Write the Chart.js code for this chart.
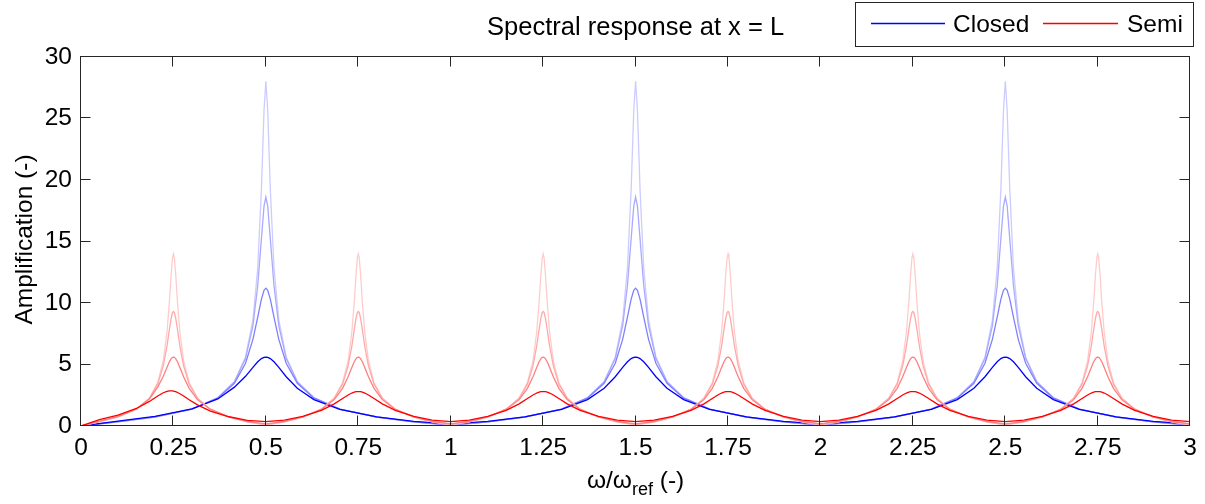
<!DOCTYPE html>
<html>
<head>
<meta charset="utf-8">
<script src="https://cdn.jsdelivr.net/npm/chart.js@4.4.1/dist/chart.umd.min.js"></script>
<style>
html,body{margin:0;padding:0;background:#ffffff;}
canvas{display:block;}
</style>
</head>
<body>
<canvas id="c" width="1205" height="504"></canvas>
<script>
// ---------- text ----------
const chartTitle = 'Spectral response at x = L';
const seriesNames = ['Closed', 'Semi'];
const yAxisTitle = 'Amplification (-)';
const xAxisTitleParts = ['\u03C9/\u03C9', 'ref', ' (-)'];

// ---------- ticks ----------
const xTickValues = [0, 0.25, 0.5, 0.75, 1, 1.25, 1.5, 1.75, 2, 2.25, 2.5, 2.75, 3];
const xTickLabels = ['0', '0.25', '0.5', '0.75', '1', '1.25', '1.5', '1.75', '2', '2.25', '2.5', '2.75', '3'];
const yTickValues = [0, 5, 10, 15, 20, 25, 30];
const yTickLabels = ['0', '5', '10', '15', '20', '25', '30'];

// ---------- closed basin (blue), four damping levels ----------
const closedOmega = [0,
  0.1, 0.2, 0.3, 0.37, 0.415, 0.445, 0.465, 0.478, 0.488, 0.495, 0.5, 0.505, 0.512, 0.522, 0.535, 0.555, 0.585, 0.63, 0.7, 0.8, 0.9, 1,
  1.1, 1.2, 1.3, 1.37, 1.415, 1.445, 1.465, 1.478, 1.488, 1.495, 1.5, 1.505, 1.512, 1.522, 1.535, 1.555, 1.585, 1.63, 1.7, 1.8, 1.9, 2,
  2.1, 2.2, 2.3, 2.37, 2.415, 2.445, 2.465, 2.478, 2.488, 2.495, 2.5, 2.505, 2.512, 2.522, 2.535, 2.555, 2.585, 2.63, 2.7, 2.8, 2.9, 3];

const closedLow = [0,
  0.329, 0.729, 1.375, 2.303, 3.625, 5.61, 8.62, 12.84, 19.26, 25.65, 28.03, 25.65, 19.26, 12.84, 8.62, 5.61, 3.625, 2.303, 1.375, 0.727, 0.327, 0.036,
  0.327, 0.727, 1.375, 2.303, 3.625, 5.61, 8.62, 12.84, 19.26, 25.65, 28.03, 25.65, 19.26, 12.84, 8.62, 5.61, 3.625, 2.303, 1.375, 0.727, 0.327, 0.036,
  0.327, 0.727, 1.375, 2.303, 3.625, 5.61, 8.62, 12.84, 19.26, 25.65, 28.03, 25.65, 19.26, 12.84, 8.62, 5.61, 3.625, 2.303, 1.375, 0.727, 0.327, 0.036];

const closedMidLow = [0,
  0.334, 0.731, 1.378, 2.294, 3.587, 5.476, 8.145, 11.41, 15.23, 17.87, 18.61, 17.87, 15.23, 11.41, 8.145, 5.476, 3.587, 2.294, 1.374, 0.728, 0.329, 0.054,
  0.329, 0.728, 1.374, 2.294, 3.587, 5.476, 8.145, 11.41, 15.23, 17.87, 18.61, 17.87, 15.23, 11.41, 8.145, 5.476, 3.587, 2.294, 1.374, 0.728, 0.329, 0.054,
  0.329, 0.728, 1.374, 2.294, 3.587, 5.476, 8.145, 11.41, 15.23, 17.87, 18.61, 17.87, 15.23, 11.41, 8.145, 5.476, 3.587, 2.294, 1.374, 0.728, 0.329, 0.054];

const closedMidHigh = [0,
  0.349, 0.740, 1.381, 2.265, 3.476, 5.102, 7.045, 8.854, 10.32, 11.04, 11.21, 11.04, 10.32, 8.854, 7.045, 5.102, 3.476, 2.265, 1.369, 0.731, 0.337, 0.089,
  0.337, 0.731, 1.369, 2.265, 3.476, 5.102, 7.045, 8.854, 10.32, 11.04, 11.21, 11.04, 10.32, 8.854, 7.045, 5.102, 3.476, 2.265, 1.369, 0.731, 0.337, 0.089,
  0.337, 0.731, 1.369, 2.265, 3.476, 5.102, 7.045, 8.854, 10.32, 11.04, 11.21, 11.04, 10.32, 8.854, 7.045, 5.102, 3.476, 2.265, 1.369, 0.731, 0.337, 0.089];

const closedHigh = [0,
  0.401, 0.776, 1.393, 2.20, 3.16, 4.04, 4.764, 5.222, 5.479, 5.578, 5.600, 5.578, 5.479, 5.222, 4.764, 4.007, 3.065, 2.142, 1.348, 0.742, 0.370, 0.179,
  0.370, 0.742, 1.348, 2.142, 3.065, 4.007, 4.764, 5.222, 5.479, 5.578, 5.600, 5.578, 5.479, 5.222, 4.764, 4.007, 3.065, 2.142, 1.348, 0.742, 0.370, 0.179,
  0.370, 0.742, 1.348, 2.142, 3.065, 4.007, 4.764, 5.222, 5.479, 5.578, 5.600, 5.578, 5.479, 5.222, 4.764, 4.007, 3.065, 2.142, 1.348, 0.742, 0.370, 0.179];

// ---------- semi-closed basin (red), four damping levels ----------
const semiOmega = [0,
  0.05, 0.1, 0.15, 0.185, 0.2075, 0.2225, 0.2325, 0.239, 0.244, 0.2475, 0.25, 0.2525, 0.256, 0.261, 0.2675, 0.2775, 0.2925, 0.315, 0.35, 0.4, 0.45, 0.5,
  0.55, 0.6, 0.65, 0.685, 0.7075, 0.7225, 0.7325, 0.739, 0.744, 0.7475, 0.75, 0.7525, 0.756, 0.761, 0.7675, 0.7775, 0.7925, 0.815, 0.85, 0.9, 0.95, 1,
  1.05, 1.1, 1.15, 1.185, 1.2075, 1.2225, 1.2325, 1.239, 1.244, 1.2475, 1.25, 1.2525, 1.256, 1.261, 1.2675, 1.2775, 1.2925, 1.315, 1.35, 1.4, 1.45, 1.5,
  1.55, 1.6, 1.65, 1.685, 1.7075, 1.7225, 1.7325, 1.739, 1.744, 1.7475, 1.75, 1.7525, 1.756, 1.761, 1.7675, 1.7775, 1.7925, 1.815, 1.85, 1.9, 1.95, 2,
  2.05, 2.1, 2.15, 2.185, 2.2075, 2.2225, 2.2325, 2.239, 2.244, 2.2475, 2.25, 2.2525, 2.256, 2.261, 2.2675, 2.2775, 2.2925, 2.315, 2.35, 2.4, 2.45, 2.5,
  2.55, 2.6, 2.65, 2.685, 2.7075, 2.7225, 2.7325, 2.739, 2.744, 2.7475, 2.75, 2.7525, 2.756, 2.761, 2.7675, 2.7775, 2.7925, 2.815, 2.85, 2.9, 2.95, 3];

const semiLow = [0,
  0.341, 0.735, 1.376, 2.281, 3.537, 5.303, 7.606, 10.05, 12.38, 13.68, 14.00, 13.68, 12.38, 10.05, 7.606, 5.303, 3.537, 2.281, 1.372, 0.729, 0.333, 0.071,
  0.333, 0.729, 1.372, 2.281, 3.537, 5.303, 7.606, 10.05, 12.38, 13.68, 14.00, 13.68, 12.38, 10.05, 7.606, 5.303, 3.537, 2.281, 1.372, 0.729, 0.333, 0.071,
  0.333, 0.729, 1.372, 2.281, 3.537, 5.303, 7.606, 10.05, 12.38, 13.68, 14.00, 13.68, 12.38, 10.05, 7.606, 5.303, 3.537, 2.281, 1.372, 0.729, 0.333, 0.071,
  0.333, 0.729, 1.372, 2.281, 3.537, 5.303, 7.606, 10.05, 12.38, 13.68, 14.00, 13.68, 12.38, 10.05, 7.606, 5.303, 3.537, 2.281, 1.372, 0.729, 0.333, 0.071,
  0.333, 0.729, 1.372, 2.281, 3.537, 5.303, 7.606, 10.05, 12.38, 13.68, 14.00, 13.68, 12.38, 10.05, 7.606, 5.303, 3.537, 2.281, 1.372, 0.729, 0.333, 0.071,
  0.333, 0.729, 1.372, 2.281, 3.537, 5.303, 7.606, 10.05, 12.38, 13.68, 14.00, 13.68, 12.38, 10.05, 7.606, 5.303, 3.537, 2.281, 1.372, 0.729, 0.333, 0.071];

const semiMidLow = [0,
  0.358, 0.746, 1.383, 2.245, 3.404, 4.881, 6.494, 7.828, 8.787, 9.215, 9.313, 9.215, 8.787, 7.828, 6.494, 4.881, 3.404, 2.245, 1.366, 0.732, 0.342, 0.107,
  0.342, 0.732, 1.366, 2.245, 3.404, 4.881, 6.494, 7.828, 8.787, 9.215, 9.313, 9.215, 8.787, 7.828, 6.494, 4.881, 3.404, 2.245, 1.366, 0.732, 0.342, 0.107,
  0.342, 0.732, 1.366, 2.245, 3.404, 4.881, 6.494, 7.828, 8.787, 9.215, 9.313, 9.215, 8.787, 7.828, 6.494, 4.881, 3.404, 2.245, 1.366, 0.732, 0.342, 0.107,
  0.342, 0.732, 1.366, 2.245, 3.404, 4.881, 6.494, 7.828, 8.787, 9.215, 9.313, 9.215, 8.787, 7.828, 6.494, 4.881, 3.404, 2.245, 1.366, 0.732, 0.342, 0.107,
  0.342, 0.732, 1.366, 2.245, 3.404, 4.881, 6.494, 7.828, 8.787, 9.215, 9.313, 9.215, 8.787, 7.828, 6.494, 4.881, 3.404, 2.245, 1.366, 0.732, 0.342, 0.107,
  0.342, 0.732, 1.366, 2.245, 3.404, 4.881, 6.494, 7.828, 8.787, 9.215, 9.313, 9.215, 8.787, 7.828, 6.494, 4.881, 3.404, 2.245, 1.366, 0.732, 0.342, 0.107];

const semiMidHigh = [0,
  0.401, 0.776, 1.393, 2.20, 3.16, 4.04, 4.764, 5.222, 5.479, 5.578, 5.600, 5.578, 5.479, 5.222, 4.764, 4.007, 3.065, 2.142, 1.348, 0.742, 0.370, 0.179,
  0.370, 0.742, 1.348, 2.142, 3.065, 4.007, 4.764, 5.222, 5.479, 5.578, 5.600, 5.578, 5.479, 5.222, 4.764, 4.007, 3.065, 2.142, 1.348, 0.742, 0.370, 0.179,
  0.370, 0.742, 1.348, 2.142, 3.065, 4.007, 4.764, 5.222, 5.479, 5.578, 5.600, 5.578, 5.479, 5.222, 4.764, 4.007, 3.065, 2.142, 1.348, 0.742, 0.370, 0.179,
  0.370, 0.742, 1.348, 2.142, 3.065, 4.007, 4.764, 5.222, 5.479, 5.578, 5.600, 5.578, 5.479, 5.222, 4.764, 4.007, 3.065, 2.142, 1.348, 0.742, 0.370, 0.179,
  0.370, 0.742, 1.348, 2.142, 3.065, 4.007, 4.764, 5.222, 5.479, 5.578, 5.600, 5.578, 5.479, 5.222, 4.764, 4.007, 3.065, 2.142, 1.348, 0.742, 0.370, 0.179,
  0.370, 0.742, 1.348, 2.142, 3.065, 4.007, 4.764, 5.222, 5.479, 5.578, 5.600, 5.578, 5.479, 5.222, 4.764, 4.007, 3.065, 2.142, 1.348, 0.742, 0.370, 0.179];

const semiHigh = [0,
  0.520, 0.885, 1.424, 1.998, 2.443, 2.704, 2.820, 2.857, 2.862, 2.852, 2.839, 2.820, 2.787, 2.724, 2.622, 2.437, 2.136, 1.715, 1.218, 0.752, 0.461, 0.357,
  0.479, 0.784, 1.276, 1.804, 2.234, 2.522, 2.679, 2.752, 2.787, 2.800, 2.802, 2.800, 2.787, 2.752, 2.679, 2.522, 2.234, 1.804, 1.276, 0.784, 0.479, 0.357,
  0.479, 0.784, 1.276, 1.804, 2.234, 2.522, 2.679, 2.752, 2.787, 2.800, 2.802, 2.800, 2.787, 2.752, 2.679, 2.522, 2.234, 1.804, 1.276, 0.784, 0.479, 0.357,
  0.479, 0.784, 1.276, 1.804, 2.234, 2.522, 2.679, 2.752, 2.787, 2.800, 2.802, 2.800, 2.787, 2.752, 2.679, 2.522, 2.234, 1.804, 1.276, 0.784, 0.479, 0.357,
  0.479, 0.784, 1.276, 1.804, 2.234, 2.522, 2.679, 2.752, 2.787, 2.800, 2.802, 2.800, 2.787, 2.752, 2.679, 2.522, 2.234, 1.804, 1.276, 0.784, 0.479, 0.357,
  0.479, 0.784, 1.276, 1.804, 2.234, 2.522, 2.679, 2.752, 2.787, 2.800, 2.802, 2.800, 2.787, 2.752, 2.679, 2.522, 2.234, 1.804, 1.276, 0.784, 0.479, 0.357];

// ---------- chart ----------
const FONT = "'Liberation Sans', Arial, Helvetica, sans-serif";
const FS = 24.5;
const TITLE_FS = 25.5;
const AXIS = '#262626';
const toPoints = (xs, ys) => xs.map((x, i) => ({ x: x, y: ys[i] }));
const line = (label, xs, ys, color) => ({
  label: label, data: toPoints(xs, ys), borderColor: color, backgroundColor: color,
  borderWidth: 1.3, pointRadius: 0, pointHoverRadius: 0, tension: 0, fill: false
});

const datasets = [
  line(seriesNames[1], semiOmega, semiHigh, '#ff0000'),
  line(seriesNames[1], semiOmega, semiMidHigh, '#ff8080'),
  line(seriesNames[1], semiOmega, semiMidLow, '#ffaaaa'),
  line(seriesNames[1], semiOmega, semiLow, '#ffcccc'),
  line(seriesNames[0], closedOmega, closedHigh, '#0000ff'),
  line(seriesNames[0], closedOmega, closedMidHigh, '#8080ff'),
  line(seriesNames[0], closedOmega, closedMidLow, '#aaaaff'),
  line(seriesNames[0], closedOmega, closedLow, '#ccccff')
];

const decorPlugin = {
  id: 'decor',
  afterDraw(chart) {
    const ctx = chart.ctx;
    const a = chart.chartArea;
    const xs = chart.scales.x, ys = chart.scales.y;
    const L = Math.round(a.left) - 0.5, R = Math.round(a.right) - 0.5;
    const T = Math.round(a.top) - 0.5, B = Math.round(a.bottom) - 0.5;
    ctx.save();
    ctx.strokeStyle = AXIS;
    ctx.lineWidth = 1;
    ctx.strokeRect(L, T, R - L, B - T);
    const TL = 10;
    ctx.beginPath();
    xTickValues.forEach(v => {
      const px = Math.round(xs.getPixelForValue(v)) - 0.5;
      ctx.moveTo(px, B); ctx.lineTo(px, B - TL);
      ctx.moveTo(px, T); ctx.lineTo(px, T + TL);
    });
    yTickValues.forEach(v => {
      const py = Math.round(ys.getPixelForValue(v)) - 0.5;
      ctx.moveTo(L, py); ctx.lineTo(L + TL, py);
      ctx.moveTo(R, py); ctx.lineTo(R - TL, py);
    });
    ctx.stroke();

    ctx.fillStyle = '#000';
    // title
    ctx.font = TITLE_FS + 'px ' + FONT;
    ctx.textAlign = 'center';
    ctx.textBaseline = 'alphabetic';
    ctx.fillText(chartTitle, (a.left + a.right) / 2, 35);

    // y title
    ctx.font = FS + 'px ' + FONT;
    ctx.save();
    ctx.translate(32, (a.top + a.bottom) / 2 - 2);
    ctx.rotate(-Math.PI / 2);
    ctx.textAlign = 'center';
    ctx.fillText(yAxisTitle, 0, 0);
    ctx.restore();

    // x title with subscript
    const subFS = Math.round(FS * 0.72);
    ctx.textAlign = 'left';
    ctx.font = FS + 'px ' + FONT;
    const w0 = ctx.measureText(xAxisTitleParts[0]).width;
    const w2 = ctx.measureText(xAxisTitleParts[2]).width;
    ctx.font = subFS + 'px ' + FONT;
    const w1 = ctx.measureText(xAxisTitleParts[1]).width;
    const x0 = (a.left + a.right) / 2 - (w0 + w1 + w2) / 2;
    const base = 488;
    ctx.font = FS + 'px ' + FONT;
    ctx.fillText(xAxisTitleParts[0], x0, base);
    ctx.font = subFS + 'px ' + FONT;
    ctx.fillText(xAxisTitleParts[1], x0 + w0, base + 7);
    ctx.font = FS + 'px ' + FONT;
    ctx.fillText(xAxisTitleParts[2], x0 + w0 + w1, base);

    // legend
    const lx = 855.5, ly = 2.5, lw = 338, lh = 44;
    ctx.fillStyle = '#fff';
    ctx.fillRect(lx, ly, lw, lh);
    ctx.strokeStyle = AXIS;
    ctx.strokeRect(lx, ly, lw, lh);
    ctx.lineWidth = 1.3;
    ctx.strokeStyle = '#0000ff';
    ctx.beginPath(); ctx.moveTo(871, 23.5); ctx.lineTo(945, 23.5); ctx.stroke();
    ctx.strokeStyle = '#ff0000';
    ctx.beginPath(); ctx.moveTo(1043, 23.5); ctx.lineTo(1118, 23.5); ctx.stroke();
    ctx.fillStyle = '#000';
    ctx.font = FS + 'px ' + FONT;
    ctx.textAlign = 'left';
    ctx.fillText(seriesNames[0], 953, 32);
    ctx.fillText(seriesNames[1], 1127, 32);
    ctx.restore();
  }
};

new Chart(document.getElementById('c'), {
  type: 'line',
  data: { datasets: datasets },
  options: {
    responsive: false,
    animation: false,
    devicePixelRatio: 1,
    layout: { padding: { left: 0, right: 13, top: 57, bottom: 0 } },
    plugins: { legend: { display: false }, title: { display: false }, tooltip: { enabled: false } },
    scales: {
      x: {
        type: 'linear', min: 0, max: 3,
        grid: { display: false, drawTicks: false }, border: { display: false },
        afterBuildTicks: s => { s.ticks = xTickValues.map(v => ({ value: v })); },
        afterFit: s => { s.height = 78; },
        ticks: {
          autoSkip: false, maxRotation: 0, minRotation: 0, padding: 8, color: '#000',
          font: { family: FONT, size: FS },
          callback: (v, i) => xTickLabels[i]
        }
      },
      y: {
        type: 'linear', min: 0, max: 30,
        grid: { display: false, drawTicks: false }, border: { display: false },
        afterBuildTicks: s => { s.ticks = yTickValues.map(v => ({ value: v })); },
        afterFit: s => { s.width = 81; },
        ticks: {
          padding: 9, color: '#000',
          font: { family: FONT, size: FS },
          callback: (v, i) => yTickLabels[i]
        }
      }
    }
  },
  plugins: [decorPlugin]
});
</script>
</body>
</html>
